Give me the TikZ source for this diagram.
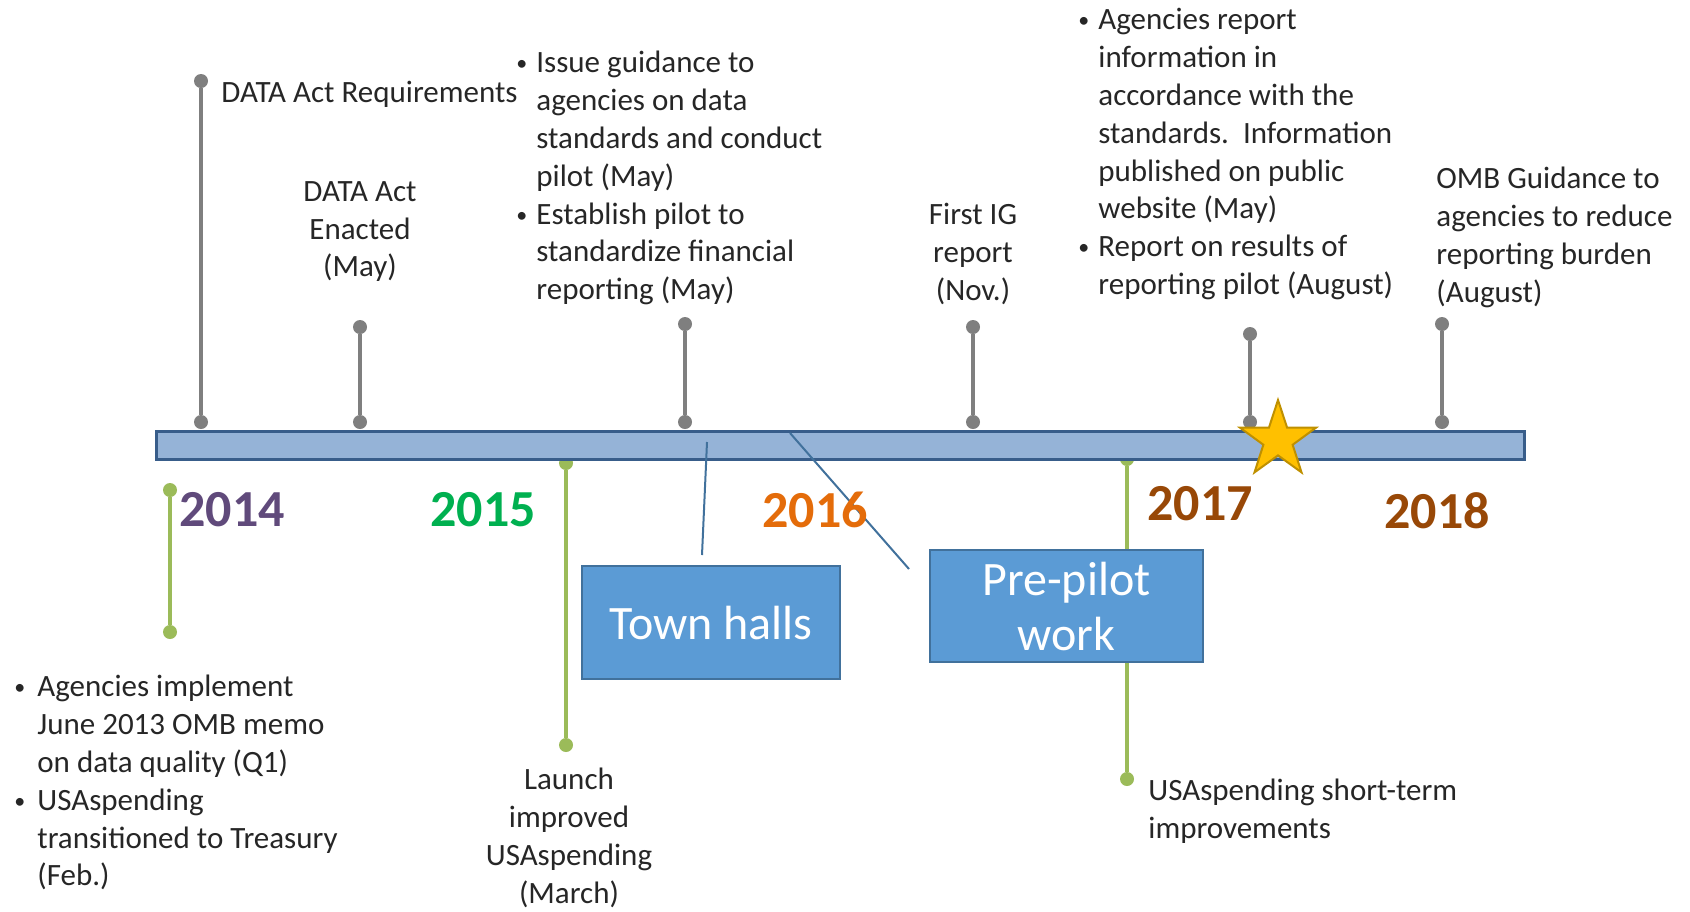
\documentclass[tikz,border=0pt]{standalone}
\usepackage{fontspec}
\setmainfont{Carlito}
\usetikzlibrary{shapes.geometric}
\definecolor{barfill}{HTML}{95B3D7}
\definecolor{barline}{HTML}{385D8A}
\definecolor{phasefill}{HTML}{5B9BD5}
\definecolor{phaseline}{HTML}{41719C}
\definecolor{pingray}{HTML}{7F7F7F}
\definecolor{leafgreen}{HTML}{9BBB59}
\definecolor{stargold}{HTML}{FFC000}
\definecolor{staredge}{HTML}{BF9000}
\definecolor{yearpurple}{HTML}{604A7B}
\definecolor{yeargreen}{HTML}{00B050}
\definecolor{yearorange}{HTML}{E46C0A}
\definecolor{yearbrown}{HTML}{984807}
\newcommand{\dotitem}{\raisebox{1pt}{\fontsize{11}{11}\selectfont\textbullet}}
\tikzstyle{bar} = [rectangle, draw=barline, fill=barfill, line width=1.5pt, minimum width=684pt, minimum height=14pt, inner sep=0pt]
\tikzstyle{pin} = [circle, fill=pingray, minimum size=7pt, inner sep=0pt]
\tikzstyle{leaf} = [circle, fill=leafgreen, minimum size=7pt, inner sep=0pt]
\tikzstyle{stem} = [line width=2pt, draw=pingray]
\tikzstyle{twig} = [line width=2pt, draw=leafgreen]
\tikzstyle{phase} = [rectangle, draw=phaseline, fill=phasefill, line width=1pt, text=white, font=\fontsize{24}{27.5}\selectfont, align=center, inner sep=0pt]
\tikzstyle{note} = [inner sep=0pt, font=\fontsize{15.5}{18.9}\selectfont, text=black!85]
\tikzstyle{year} = [inner sep=0pt, font=\bfseries\fontsize{26}{30}\selectfont]
\tikzstyle{callout} = [line width=1pt, draw=phaseline]
\tikzstyle{milestone} = [star, star points=5, star point ratio=2.6, fill=stargold, draw=staredge, line width=1pt, minimum size=40pt, inner sep=0pt]

\begin{document}
\begin{tikzpicture}[x=0.5pt, y=-0.5pt]
\useasboundingbox (0,0) rectangle (1690,911);

% green stems below the bar
\node (qual top) [leaf] at (170,490) {};
\node (qual end) [leaf] at (170,632) {};
\node (launch top) [leaf] at (566,463) {};
\node (launch end) [leaf] at (566,745) {};
\node (short top) [leaf] at (1127,459) {};
\node (short end) [leaf] at (1127,779) {};
\draw [twig] (qual top) -- (qual end);
\draw [twig] (launch top) -- (launch end);
\draw [twig] (short top) -- (short end);

% phases
\node (townhalls) [phase, minimum width=129pt, minimum height=56.5pt] at (711,622.5) {Town halls};
\node (prepilot) [phase, minimum width=136.5pt, minimum height=56pt] at (1066.5,606) {Pre-pilot\\work};

% timeline
\node (timebar) [bar] at (840.5,445) {};

% gray stems above the bar
\node (req top) [pin] at (201,81) {};
\node (req base) [pin] at (201,422) {};
\node (enact top) [pin] at (360,327) {};
\node (enact base) [pin] at (360,422) {};
\node (guide top) [pin] at (685,324) {};
\node (guide base) [pin] at (685,422) {};
\node (ig top) [pin] at (973,327) {};
\node (ig base) [pin] at (973,422) {};
\node (report top) [pin] at (1250,334) {};
\node (report base) [pin] at (1250,422) {};
\node (omb top) [pin] at (1442,324) {};
\node (omb base) [pin] at (1442,422) {};
\draw [stem] (req top) -- (req base);
\draw [stem] (enact top) -- (enact base);
\draw [stem] (guide top) -- (guide base);
\draw [stem] (ig top) -- (ig base);
\draw [stem] (report top) -- (report base);
\draw [stem] (omb top) -- (omb base);

% callouts
\coordinate (th foot) at (702,555);
\coordinate (th head) at (707,442);
\coordinate (pp foot) at (909,569);
\coordinate (pp head) at (790,433);
\draw [callout] (th foot) -- (th head);
\draw [callout] (pp foot) -- (pp head);

\node (goal) [milestone] at (1278,440) {};

% years
\node (y2014) [year, text=yearpurple] at (232,510) {2014};
\node (y2015) [year, text=yeargreen] at (483,510) {2015};
\node (y2016) [year, text=yearorange] at (815,510) {2016};
\node (y2017) [year, text=yearbrown] at (1200,504) {2017};
\node (y2018) [year, text=yearbrown] at (1437,511) {2018};

% labels
\node (reqtext) [note, anchor=west] at (221,94) {DATA Act Requirements};
\node (enacttext) [note, align=center, anchor=north] at (360,181) {DATA Act\\Enacted\\(May)};
\node (guidetext) [note, anchor=north west] at (516,46) {\begin{tabular}{@{}p{10pt}@{}l@{}}
\dotitem & Issue guidance to\\
 & agencies on data\\
 & standards and conduct\\
 & pilot (May)\\
\dotitem & Establish pilot to\\
 & standardize financial\\
 & reporting (May)
\end{tabular}};
\node (igtext) [note, align=center, anchor=north] at (973,203) {First IG\\report\\(Nov.)};
\node (reporttext) [note, anchor=north west] at (1078,3) {\begin{tabular}{@{}p{10pt}@{}l@{}}
\dotitem & Agencies report\\
 & information in\\
 & accordance with the\\
 & standards.\ \ Information\\
 & published on public\\
 & website (May)\\
\dotitem & Report on results of\\
 & reporting pilot (August)
\end{tabular}};
\node (ombtext) [note, align=left, anchor=north west] at (1436,167) {OMB Guidance to\\agencies to reduce\\reporting burden\\(August)};
\node (qualtext) [note, anchor=north west] at (14,670) {\begin{tabular}{@{}p{11.5pt}@{}l@{}}
\dotitem & Agencies implement\\
 & June 2013 OMB memo\\
 & on data quality (Q1)\\
\dotitem & USAspending\\
 & transitioned to Treasury\\
 & (Feb.)
\end{tabular}};
\node (launchtext) [note, align=center, anchor=north] at (569,768) {Launch\\improved\\USAspending\\(March)};
\node (shorttext) [note, align=left, anchor=north west] at (1148,779) {USAspending short-term\\improvements};

\end{tikzpicture}
\end{document}
